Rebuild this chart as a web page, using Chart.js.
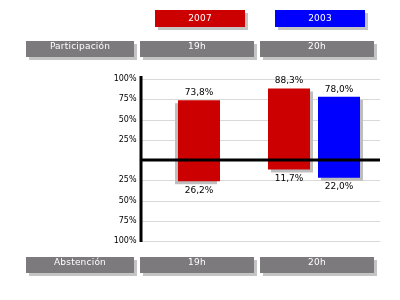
<!DOCTYPE html>
<html lang="es">
<head>
  <meta charset="UTF-8">
  <title>Participación</title>
  <script src="https://cdn.jsdelivr.net/npm/chart.js@4.4.0/dist/chart.umd.min.js"></script>
  <style>
    body { margin: 0; background: #fff; }
    #wrap { position: relative; width: 400px; height: 300px; }
    .box {
      position: absolute;
      height: 16px;
      line-height: 16px;
      color: #fff;
      font: 9px "DejaVu Sans", sans-serif;
      letter-spacing: 0.2px;
      text-align: center;
      box-shadow: 3px 3px 0 #c4c4c4;
    }
    .gray { background: #7c7a7c; }
  </style>
</head>
<body>
  <div id="wrap">
    <canvas id="chart" width="400" height="300"></canvas>
    <div class="box" style="left:155px;top:10px;width:90px;height:17px;line-height:17px;background:#cc0000">2007</div>
    <div class="box" style="left:275px;top:10px;width:90px;height:17px;line-height:17px;background:#0000ff">2003</div>
    <div class="box gray" style="left:26px;top:41px;width:108px">Participación</div>
    <div class="box gray" style="left:140px;top:41px;width:114px">19h</div>
    <div class="box gray" style="left:260px;top:41px;width:114px">20h</div>
    <div class="box gray" style="left:26px;top:257px;width:108px">Abstención</div>
    <div class="box gray" style="left:140px;top:257px;width:114px">19h</div>
    <div class="box gray" style="left:260px;top:257px;width:114px">20h</div>
  </div>
  <script>
    const hours = ['19h', '20h'];
    const participacion2007 = [73.8, 88.3];
    const participacion2003 = [null, 78.0];
    const abstencion2007 = [26.2, 11.7];
    const abstencion2003 = [null, 22.0];

    const red = '#cc0000';
    const blue = '#0000ff';
    const neg = arr => arr.map(v => v == null ? null : -v);

    // grid, zero line, axis line and bar shadows, drawn under the bars
    const backdrop = {
      id: 'backdrop',
      beforeDatasetsDraw(chart) {
        const { ctx, chartArea: a, scales: { y } } = chart;
        const right = a.right + 8.5;
        ctx.save();
        ctx.strokeStyle = '#d9d9d9';
        ctx.lineWidth = 1;
        y.ticks.forEach(t => {
          if (t.value === 0) return;
          const py = Math.round(y.getPixelForValue(t.value)) + 0.5;
          ctx.beginPath();
          ctx.moveTo(a.left, py);
          ctx.lineTo(right, py);
          ctx.stroke();
        });
        ctx.fillStyle = '#bebebe';
        const mid = (a.left + a.right) / 2;
        chart.data.datasets.forEach((ds, i) => {
          chart.getDatasetMeta(i).data.forEach((bar, j) => {
            if (ds.data[j] == null) return;
            const dx = bar.x < mid ? -3 : 3;
            const top = Math.min(bar.y, bar.base);
            const h = Math.abs(bar.base - bar.y);
            ctx.fillRect(bar.x - bar.width / 2 + dx, top + 3, bar.width, h);
          });
        });
        ctx.restore();
      },
      afterDatasetsDraw(chart) {
        const { ctx, chartArea: a, scales: { y } } = chart;
        ctx.save();
        ctx.fillStyle = '#000';
        const zy = y.getPixelForValue(0);
        ctx.fillRect(a.left, zy - 1.5, a.right + 8.5 - a.left, 3);
        ctx.fillRect(a.left - 2, a.top - 3, 3, a.bottom - a.top + 4);

        ctx.font = '9px "DejaVu Sans", sans-serif';
        ctx.textAlign = 'center';
        ctx.textBaseline = 'middle';
        chart.data.datasets.forEach((ds, i) => {
          chart.getDatasetMeta(i).data.forEach((bar, j) => {
            const v = ds.data[j];
            if (v == null) return;
            const txt = Math.abs(v).toFixed(1).replace('.', ',') + '%';
            const ty = v >= 0 ? bar.y - 7.5 : bar.y + 9;
            ctx.fillText(txt, bar.x, ty);
          });
        });
        ctx.restore();
      }
    };

    const barOpts = { categoryPercentage: 0.8696, barPercentage: 0.84, maxBarThickness: 42, skipNull: true };

    new Chart(document.getElementById('chart'), {
      type: 'bar',
      data: {
        labels: hours,
        datasets: [
          { label: '2007', data: participacion2007, stack: '2007', backgroundColor: red, ...barOpts },
          { label: '2003', data: participacion2003, stack: '2003', backgroundColor: blue, ...barOpts },
          { label: 'Abstención 2007', data: neg(abstencion2007), stack: '2007', backgroundColor: red, ...barOpts },
          { label: 'Abstención 2003', data: neg(abstencion2003), stack: '2003', backgroundColor: blue, ...barOpts }
        ]
      },
      options: {
        responsive: false,
        animation: false,
        layout: { padding: { left: 0, right: 28.5, top: 79, bottom: 59 } },
        plugins: { legend: { display: false }, tooltip: { enabled: false } },
        scales: {
          x: { display: false, stacked: true, offset: true },
          y: {
            stacked: true,
            min: -100,
            max: 100,
            border: { display: false },
            grid: { display: false, drawTicks: false },
            afterFit(scale) { scale.width = 141.5; },
            ticks: {
              stepSize: 25,
              padding: 5,
              color: '#000',
              font: { family: 'DejaVu Sans', size: 8 },
              callback: v => v === 0 ? '' : Math.abs(v) + '%'
            }
          }
        }
      },
      plugins: [backdrop]
    });
  </script>
</body>
</html>
